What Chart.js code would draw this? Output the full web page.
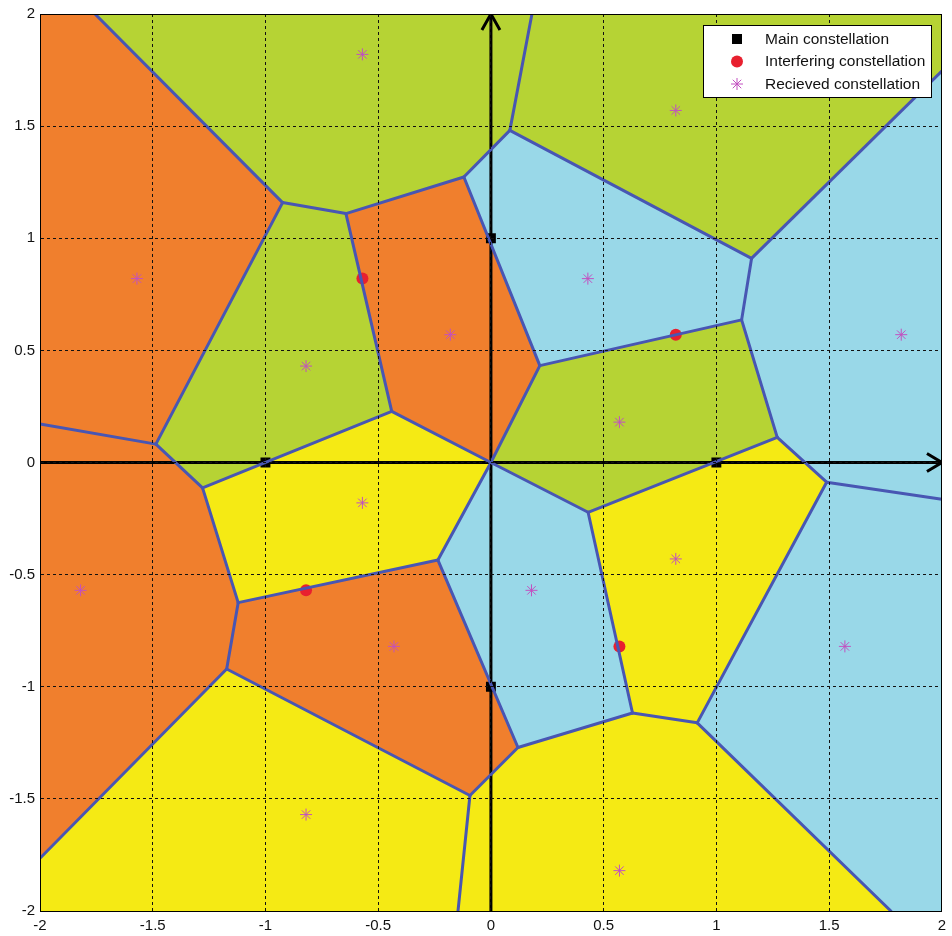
<!DOCTYPE html>
<html>
<head>
<meta charset="utf-8">
<script src="https://cdn.jsdelivr.net/npm/chart.js@4.4.1/dist/chart.umd.min.js"></script>
<style>
  html, body { margin: 0; padding: 0; background: #fff; }
  #wrap { width: 952px; height: 936px; }
</style>
</head>
<body>
<div id="wrap"><canvas id="chart" width="952" height="936"></canvas></div>
<script>
// ── Decision regions: polygon vertices [x, y] ──

const regionOrangeTopLeft = [[-2, 2], [-1.756, 2], [-0.924, 1.159], [-1.486, 0.082], [-2, 0.172]];
const regionGreenTop = [[-1.756, 2], [0.182, 2], [0.084, 1.481], [-0.120, 1.273], [-0.643, 1.110], [-0.924, 1.159]];
const regionGreenTopRight = [[0.182, 2], [2, 2], [2, 1.745], [1.156, 0.910], [0.084, 1.481]];
const regionBlueTop = [[-0.120, 1.273], [0.084, 1.481], [1.156, 0.910], [1.112, 0.636], [0.217, 0.432]];
const regionBlueRight = [[2, 1.745], [2, -0.164], [1.489, -0.088], [1.270, 0.112], [1.112, 0.636], [1.156, 0.910]];
const regionOrangeCenter = [[-0.643, 1.110], [-0.120, 1.273], [0.217, 0.432], [0, 0], [-0.440, 0.228]];
const regionGreenLeft = [[-0.924, 1.159], [-0.643, 1.110], [-0.440, 0.228], [-1.279, -0.113], [-1.486, 0.082]];
const regionOrangeLeft = [[-2, 0.172], [-1.486, 0.082], [-1.279, -0.113], [-1.121, -0.625], [-1.172, -0.921], [-2, -1.765]];
const regionGreenCenter = [[0, 0], [0.217, 0.432], [1.112, 0.636], [1.270, 0.112], [0.431, -0.222]];
const regionYellowCenter = [[-0.440, 0.228], [0, 0], [-0.235, -0.435], [-1.121, -0.625], [-1.279, -0.113]];
const regionYellowRight = [[0.431, -0.222], [1.270, 0.112], [1.489, -0.088], [0.915, -1.161], [0.628, -1.117]];
const regionBlueCenter = [[0, 0], [0.431, -0.222], [0.628, -1.117], [0.120, -1.271], [-0.235, -0.435]];
const regionOrangeBottom = [[-1.121, -0.625], [-0.235, -0.435], [0.120, -1.271], [-0.093, -1.485], [-1.172, -0.921]];
const regionYellowBottomLeft = [[-2, -1.765], [-1.172, -0.921], [-0.093, -1.485], [-0.146, -2], [-2, -2]];
const regionYellowBottomRight = [[-0.093, -1.485], [0.120, -1.271], [0.628, -1.117], [0.915, -1.161], [1.774, -2], [-0.146, -2]];
const regionBlueBottomRight = [[2, -0.164], [2, -2], [1.774, -2], [0.915, -1.161], [1.489, -0.088]];

const regions = [
  regionOrangeTopLeft, regionGreenTop, regionGreenTopRight, regionBlueTop,
  regionBlueRight, regionOrangeCenter, regionGreenLeft, regionOrangeLeft,
  regionGreenCenter, regionYellowCenter, regionYellowRight, regionBlueCenter,
  regionOrangeBottom, regionYellowBottomLeft, regionYellowBottomRight, regionBlueBottomRight
];
const regionClass = [
  'orange', 'green', 'green', 'blue',
  'blue', 'orange', 'green', 'orange',
  'green', 'yellow', 'yellow', 'blue',
  'orange', 'yellow', 'yellow', 'blue'
];

// ── Constellations ─────────────────────────────────────────────

const mainX = [0, 1, 0, -1];
const mainY = [1, 0, -1, 0];

const interfX = [-0.57, 0.82, 0.57, -0.82];
const interfY = [0.82, 0.57, -0.82, -0.57];

const recvX = [-0.57, 0.82, 0.57, -0.82, 0.43, 1.82, 1.57, 0.18, -0.57, 0.82, 0.57, -0.82, -1.57, -0.18, -0.43, -1.82];
const recvY = [1.82, 1.57, 0.18, 0.43, 0.82, 0.57, -0.82, -0.57, -0.18, -0.43, -1.82, -1.57, 0.82, 0.57, -0.82, -0.57];

const legendLabels = ['Main constellation', 'Interfering constellation', 'Recieved constellation'];

const tickMin = -2;
const tickMax = 2;
const tickStep = 0.5;

// ── Styles ─────────────────────────────────────────────────────

const fillColors = {
  orange: '#f07f2d',
  green: '#b6d334',
  yellow: '#f5ea14',
  blue: '#99d8e8'
};
const edgeBlue = '#4856b3';
const FONT = "'Liberation Sans', Arial, sans-serif";

function toPoints(xs, ys) {
  return xs.map(function (x, i) { return { x: x, y: ys[i] }; });
}

function onFrame(a, b) {
  // both ends on the same side of the plot box
  return (Math.abs(a[0]) >= 2 && a[0] === b[0]) || (Math.abs(a[1]) >= 2 && a[1] === b[1]);
}

// filled cells, no outline
const datasets = regions.map(function (poly, i) {
  return {
    data: poly.concat([poly[0]]).map(function (p) { return { x: p[0], y: p[1] }; }),
    showLine: true,
    fill: 'shape',
    backgroundColor: fillColors[regionClass[i]],
    borderWidth: 0,
    pointRadius: 0,
    tension: 0,
    clip: 0
  };
});

// cell boundaries: every polygon side once, except those lying on the frame
const seen = {};
regions.forEach(function (poly) {
  poly.forEach(function (a, k) {
    const b = poly[(k + 1) % poly.length];
    if (onFrame(a, b)) return;
    const key = [a.join(','), b.join(',')].sort().join('|');
    if (seen[key]) return;
    seen[key] = true;
    datasets.push({
      data: [{ x: a[0], y: a[1] }, { x: b[0], y: b[1] }],
      showLine: true,
      fill: false,
      borderColor: edgeBlue,
      borderWidth: 3,
      borderCapStyle: 'round',
      pointRadius: 0,
      clip: 0
    });
  });
});

// axes drawn as thick arrows through the origin
const axisLine = { showLine: true, fill: false, borderColor: '#000', borderWidth: 3, pointRadius: 0, clip: 0 };
datasets.push(Object.assign({ data: [{ x: tickMin, y: 0 }, { x: tickMax, y: 0 }] }, axisLine));
datasets.push(Object.assign({ data: [{ x: 1.934, y: 0.04 }, { x: tickMax, y: 0 }, { x: 1.934, y: -0.04 }] }, axisLine));
datasets.push(Object.assign({ data: [{ x: 0, y: tickMin }, { x: 0, y: tickMax }] }, axisLine));
datasets.push(Object.assign({ data: [{ x: -0.04, y: 1.929 }, { x: 0, y: tickMax }, { x: 0.04, y: 1.929 }] }, axisLine));

datasets.push({
  label: legendLabels[0], legend: true,
  data: toPoints(mainX, mainY),
  pointStyle: 'rect', pointRadius: 7, backgroundColor: '#000', borderColor: '#000', borderWidth: 0
});
datasets.push({
  label: legendLabels[1], legend: true,
  data: toPoints(interfX, interfY),
  pointStyle: 'circle', pointRadius: 6, backgroundColor: '#e8202f', borderColor: '#e8202f', borderWidth: 0
});
datasets.push({
  label: legendLabels[2], legend: true,
  data: toPoints(recvX, recvY),
  pointStyle: 'star', pointRadius: 6, backgroundColor: '#c250c0', borderColor: '#c250c0', borderWidth: 1
});

// ── Legend box in the top right corner ─────────────────────────

function drawMarker(ctx, ds, x, y) {
  ctx.save();
  ctx.fillStyle = ds.backgroundColor;
  ctx.strokeStyle = ds.borderColor;
  ctx.lineWidth = ds.borderWidth || 1;
  if (ds.pointStyle === 'rect') {
    ctx.fillRect(x - 5, y - 5, 10, 10);
  } else if (ds.pointStyle === 'circle') {
    ctx.beginPath();
    ctx.arc(x, y, 6, 0, Math.PI * 2);
    ctx.fill();
  } else {
    ctx.beginPath();
    for (let k = 0; k < 4; k++) {
      const a = k * Math.PI / 4;
      ctx.moveTo(x - Math.cos(a) * 6, y - Math.sin(a) * 6);
      ctx.lineTo(x + Math.cos(a) * 6, y + Math.sin(a) * 6);
    }
    ctx.stroke();
  }
  ctx.restore();
}

const boxLegend = {
  id: 'boxLegend',
  afterDraw: function (chart) {
    const ctx = chart.ctx;
    const left = 703.5, top = 25.5, w = 228, h = 72;
    ctx.save();
    ctx.fillStyle = '#fff';
    ctx.fillRect(left, top, w, h);
    ctx.strokeStyle = '#000';
    ctx.lineWidth = 1;
    ctx.strokeRect(left, top, w, h);
    ctx.font = '15.5px ' + FONT;
    ctx.fillStyle = '#111';
    ctx.textBaseline = 'middle';
    const items = chart.data.datasets.filter(function (d) { return d.legend; });
    items.forEach(function (ds, i) {
      const y = 39 + i * 22.5;
      drawMarker(ctx, ds, 737, y);
      ctx.fillText(ds.label, 765, y + 0.5);
    });
    ctx.restore();
  }
};

// ── Chart ──────────────────────────────────────────────────────

function mainAxis(pos, fitProp, fitVal) {
  return {
    type: 'linear',
    position: pos,
    min: tickMin,
    max: tickMax,
    afterFit: function (s) { s[fitProp] = fitVal; },
    ticks: {
      stepSize: tickStep,
      color: '#111',
      padding: pos === 'left' ? 5 : 6,
      font: { family: FONT, size: 15 },
      callback: function (v) { return String(Number(v.toFixed(2))); }
    },
    grid: { color: '#111', lineWidth: 1, drawTicks: false, z: 1 },
    border: { display: true, color: '#000', width: 1, dash: [3, 3], z: 2 }
  };
}

function frameAxis(axis, pos, fitProp) {
  return {
    type: 'linear',
    axis: axis,
    position: pos,
    min: tickMin,
    max: tickMax,
    afterFit: function (s) { s[fitProp] = 0; },
    ticks: { display: false },
    grid: { display: false, drawTicks: false },
    border: { display: true, color: '#000', width: 1, z: 2 }
  };
}

new Chart(document.getElementById('chart'), {
  type: 'scatter',
  data: { datasets: datasets },
  options: {
    responsive: false,
    animation: false,
    events: [],
    layout: { padding: { top: 12, right: 10, left: 0, bottom: 0 } },
    plugins: {
      legend: { display: false },
      tooltip: { enabled: false },
      filler: { drawTime: 'beforeDatasetsDraw' }
    },
    scales: {
      x: mainAxis('bottom', 'height', 25),
      y: mainAxis('left', 'width', 40),
      x2: frameAxis('x', 'top', 'height'),
      y2: frameAxis('y', 'right', 'width')
    }
  },
  plugins: [boxLegend]
});
</script>
</body>
</html>
